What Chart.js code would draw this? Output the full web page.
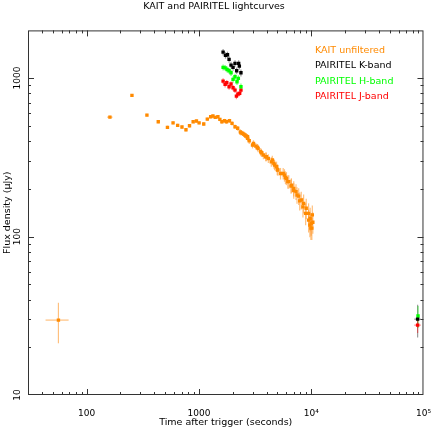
<!DOCTYPE html>
<html lang="en">
<head>
  <meta charset="UTF-8" />
  <title>KAIT and PAIRITEL lightcurves</title>
  <script src="https://cdn.jsdelivr.net/npm/chart.js"></script>
  <style>
    html, body {
      margin: 0;
      padding: 0;
      background: #fff;
    }
    #chart-container {
      width: 436px;
      height: 436px;
    }
  </style>
</head>
<body>
  <div id="chart-container">
    <canvas id="lcChart"></canvas>
  </div>

  <script>
    // KAIT unfiltered (seconds after trigger, microJy)
    const kaitTime = [56, 161, 253, 344, 434, 524, 588, 646, 706, 766, 824, 888, 950, 1003, 1103,
      1187, 1272, 1332, 1396, 1475, 1536, 1600, 1690, 1760, 1870, 1971, 2095, 2213, 2337, 2449,
      2567, 2710, 2805, 3000, 3208, 3368, 3550, 3750, 3929, 4150, 4411, 4659, 4912, 5053, 5326,
      5777, 6016, 6315, 6657, 6989, 7322, 7735, 8153, 8560, 9027, 9478, 9790, 9990, 10130,
      // second pass over the dense part of the band
      2366, 2499, 2619, 2710, 3061, 3320, 3601, 3985, 4501, 4716, 4983, 5626, 5895, 6189,
      6617, 6989, 7472, 7894, 8439, 8918, 9478, 9929, 10230, 9727, 10340];
    const kaitFlux = [29.7, 567, 778, 584, 530, 489, 522, 503, 491, 472, 500, 530, 536, 522, 513,
      551, 570, 576, 565, 570, 549, 530, 538, 530, 538, 518, 493, 482, 458, 448,
      437, 426, 402, 378, 372, 360, 343, 327, 319, 311, 296, 289, 276, 263, 250,
      244, 233, 222, 211, 201, 192, 180, 170, 162, 151, 140, 130, 121, 113,
      452, 443, 431, 417, 387, 365, 338, 319, 304, 283, 265, 250, 236, 222,
      208, 195, 183, 168, 154, 140, 127, 113, 137, 118, 123];
    const kaitErr = [8.5, 12, 15, 12, 12, 12, 12, 12, 12, 12, 12, 12, 12, 12, 13,
      14, 14, 14, 14, 14, 14, 14, 15, 15, 15, 16, 16, 16, 17, 17,
      17, 18, 18, 18, 18, 19, 19, 19, 20, 20, 20, 21, 21, 21, 21,
      22, 22, 22, 22, 22, 22, 22, 22, 22, 22, 22, 22, 20, 18,
      17, 17, 17, 18, 18, 19, 19, 20, 20, 21, 21, 21, 22, 22,
      22, 22, 22, 22, 22, 22, 21, 18, 20, 19, 19];
    const kaitTimeErr = [13, 9];

    // PAIRITEL K-band
    const kTime = [1641, 1724, 1796, 1855, 1931, 2012, 2095, 2168, 2258, 2290, 2366, 88700];
    const kFlux = [1459, 1391, 1403, 1312, 1208, 1168, 1238, 1112, 1238, 1190, 1080, 30.1];
    const kErr = [70, 65, 65, 60, 60, 55, 60, 55, 60, 55, 55, 7];

    // PAIRITEL H-band
    const hTime = [1641, 1710, 1781, 1855, 1931, 2012, 2095, 2182, 2244, 2366, 89400];
    const hFlux = [1168, 1161, 1134, 1112, 1080, 981, 1019, 948, 996, 881, 31.5];
    const hErr = [50, 50, 50, 48, 48, 45, 45, 45, 45, 42, 5];

    // PAIRITEL J-band
    const jTime = [1641, 1710, 1770, 1855, 1931, 2012, 2095, 2156, 2226, 2305, 2366, 88700];
    const jFlux = [957, 913, 934, 881, 917, 869, 840, 770, 793, 801, 840, 27.6];
    const jErr = [40, 40, 40, 38, 38, 36, 36, 34, 34, 34, 36, 3];

    const pairitelTimeErr = [40, 40, 40, 40, 40, 40, 40, 40, 40, 40, 40, 6000];

    const xTicks = [100, 1000, 10000, 100000];
    const xTickLabels = ['100', '1000', '10\u2074', '10\u2075'];
    const yTicks = [10, 100, 1000];
    const yTickLabels = ['10', '100', '1000'];

    const FONT = 'DejaVu Sans';

    function toPoints(t, f, fe, te) {
      return t.map((x, i) => ({ x: x, y: f[i], yErr: fe[i] || 0, xErr: te[i] || 0 }));
    }

    function seg(ctx, x1, y1, x2, y2) {
      ctx.beginPath();
      ctx.moveTo(x1, y1);
      ctx.lineTo(x2, y2);
      ctx.stroke();
    }

    // error bars drawn under the markers
    const errorBars = {
      id: 'errorBars',
      beforeDatasetsDraw(chart) {
        const ctx = chart.ctx;
        const xs = chart.scales.x, ys = chart.scales.y;
        ctx.save();
        ctx.lineWidth = 1.2;
        chart.data.datasets.forEach(ds => {
          ctx.strokeStyle = ds.errColor;
          ds.data.forEach(p => {
            const px = xs.getPixelForValue(p.x);
            const py = ys.getPixelForValue(p.y);
            if (p.yErr) {
              seg(ctx, px, ys.getPixelForValue(p.y + p.yErr), px, ys.getPixelForValue(p.y - p.yErr));
            }
            if (p.xErr) {
              seg(ctx, xs.getPixelForValue(p.x - p.xErr), py, xs.getPixelForValue(p.x + p.xErr), py);
            }
          });
        });
        ctx.restore();
      }
    };

    // box, inward ticks on all sides, rotated y labels, text legend
    const frame = {
      id: 'frame',
      afterDraw(chart) {
        const ctx = chart.ctx;
        const a = chart.chartArea;
        const xs = chart.scales.x, ys = chart.scales.y;
        ctx.save();
        ctx.strokeStyle = '#333';
        ctx.lineWidth = 1;
        ctx.strokeRect(a.left + 0.5, a.top + 0.5, a.right - a.left - 1, a.bottom - a.top - 1);

        for (let d = 1; d <= 5; d++) {
          for (let m = 1; m <= 9; m++) {
            const v = m * Math.pow(10, d);
            if (v > xs.min && v < xs.max) {
              const px = Math.round(xs.getPixelForValue(v)) + 0.5;
              const len = m === 1 ? 6 : 3;
              seg(ctx, px, a.bottom, px, a.bottom - len);
              seg(ctx, px, a.top, px, a.top + len);
            }
            if (v > ys.min && v < ys.max) {
              const py = Math.round(ys.getPixelForValue(v)) + 0.5;
              const len = m === 1 ? 6 : 3;
              seg(ctx, a.left, py, a.left + len, py);
              seg(ctx, a.right, py, a.right - len, py);
            }
          }
        }

        ctx.fillStyle = '#000';
        ctx.font = '9px "' + FONT + '"';
        ctx.textAlign = 'center';
        ctx.textBaseline = 'middle';
        yTicks.forEach((v, i) => {
          const py = ys.getPixelForValue(v);
          ctx.save();
          ctx.translate(18, py);
          ctx.rotate(-Math.PI / 2);
          ctx.fillText(yTickLabels[i], 0, 0);
          ctx.restore();
        });

        ctx.textAlign = 'left';
        ctx.font = '9.5px "' + FONT + '"';
        chart.data.datasets.forEach((ds, i) => {
          ctx.fillStyle = ds.backgroundColor;
          ctx.fillText(ds.label, a.left + 287, a.top + 20 + i * 15.5);
        });
        ctx.restore();
      }
    };

    const ctx = document.getElementById('lcChart').getContext('2d');

    const chart = new Chart(ctx, {
      type: 'scatter',
      data: {
        datasets: [
          {
            label: 'KAIT unfiltered',
            data: toPoints(kaitTime, kaitFlux, kaitErr, kaitTimeErr),
            backgroundColor: '#ff8a00',
            errColor: 'rgba(255, 150, 40, 0.6)'
          },
          {
            label: 'PAIRITEL K-band',
            data: toPoints(kTime, kFlux, kErr, pairitelTimeErr),
            backgroundColor: '#000000',
            errColor: 'rgba(0, 0, 0, 0.4)'
          },
          {
            label: 'PAIRITEL H-band',
            data: toPoints(hTime, hFlux, hErr, pairitelTimeErr),
            backgroundColor: '#00ff00',
            errColor: 'rgba(0, 230, 0, 0.5)'
          },
          {
            label: 'PAIRITEL J-band',
            data: toPoints(jTime, jFlux, jErr, pairitelTimeErr),
            backgroundColor: '#ff0000',
            errColor: 'rgba(255, 0, 0, 0.45)'
          }
        ]
      },
      options: {
        responsive: true,
        maintainAspectRatio: false,
        animation: false,
        layout: {
          padding: { left: 0, right: 8, top: 0, bottom: 0 }
        },
        elements: {
          point: {
            pointStyle: 'rect',
            radius: 2.4,
            borderWidth: 0
          }
        },
        plugins: {
          legend: { display: false },
          tooltip: { enabled: false },
          title: {
            display: true,
            text: 'KAIT and PAIRITEL lightcurves',
            color: '#000',
            font: { family: FONT, size: 9.5, weight: 'normal' },
            padding: { top: 1, bottom: 18 }
          }
        },
        scales: {
          x: {
            type: 'logarithmic',
            min: 30,
            max: 100000,
            grid: { display: false },
            border: { display: false },
            afterBuildTicks: s => { s.ticks = xTicks.map(v => ({ value: v })); },
            afterFit: s => { s.height = 41; },
            ticks: {
              autoSkip: false,
              maxRotation: 0,
              padding: 5,
              color: '#000',
              font: { family: FONT, size: 9 },
              callback: v => xTickLabels[xTicks.indexOf(v)]
            },
            title: {
              display: true,
              text: 'Time after trigger (seconds)',
              color: '#000',
              font: { family: FONT, size: 9.5 },
              padding: { top: 0, bottom: 8 }
            }
          },
          y: {
            type: 'logarithmic',
            min: 10,
            max: 2000,
            grid: { display: false },
            border: { display: false },
            afterFit: s => { s.width = 28; },
            ticks: { display: false },
            title: {
              display: true,
              text: 'Flux density (\u00b5Jy)',
              color: '#000',
              font: { family: FONT, size: 9.5 },
              padding: { top: 2, bottom: 0 }
            }
          }
        }
      },
      plugins: [errorBars, frame]
    });
  </script>
</body>
</html>
